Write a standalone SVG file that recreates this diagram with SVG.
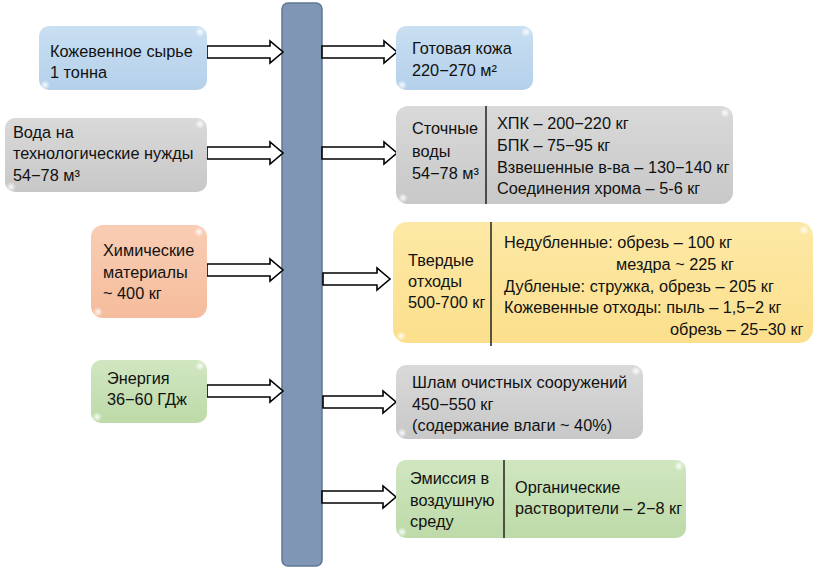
<svg xmlns="http://www.w3.org/2000/svg" width="816" height="568" viewBox="0 0 816 568">
<style>
text{font-family:"Liberation Sans",Arial,sans-serif;font-size:16.3px;fill:#111}
.box{stroke:none}
.blue{fill:url(#gBlue)}
.gray{fill:url(#gGray)}
.orange{fill:url(#gOrange)}
.green{fill:url(#gGreen)}
.yellow{fill:url(#gYellow)}
.div{stroke:#222;stroke-width:1.5}
.arr{fill:#fff;stroke:#000;stroke-width:1.6;stroke-linejoin:miter}
.hl{fill:url(#gHl)}
</style>
<defs>
<linearGradient id="gBlue" x1="0" y1="0" x2="0" y2="1"><stop offset="0" stop-color="#c9dff2"/><stop offset="1" stop-color="#b4d0ea"/></linearGradient>
<linearGradient id="gGray" x1="0" y1="0" x2="0" y2="1"><stop offset="0" stop-color="#d9d9d9"/><stop offset="1" stop-color="#c8c8c8"/></linearGradient>
<linearGradient id="gOrange" x1="0" y1="0" x2="0" y2="1"><stop offset="0" stop-color="#f9cdb4"/><stop offset="1" stop-color="#f5bc9c"/></linearGradient>
<linearGradient id="gGreen" x1="0" y1="0" x2="0" y2="1"><stop offset="0" stop-color="#d0e6c0"/><stop offset="1" stop-color="#bddaa8"/></linearGradient>
<linearGradient id="gYellow" x1="0" y1="0" x2="0" y2="1"><stop offset="0" stop-color="#fde9a6"/><stop offset="1" stop-color="#fbdf8c"/></linearGradient>
<radialGradient id="gHl"><stop offset="0" stop-color="#fff" stop-opacity="0.9"/><stop offset="1" stop-color="#fff" stop-opacity="0"/></radialGradient>
</defs>

<g id="center-bar">
<rect x="282" y="3" width="40" height="563" rx="6" fill="#7f97b5" stroke="#5f7696" stroke-width="1.5"/>
</g>

<g id="connectors">
<path class="arr" d="M207,46 H270 V41 L283,52 L270,63 V58 H207 Z"/>
<path class="arr" d="M207,147 H270 V142 L283,153 L270,164 V159 H207 Z"/>
<path class="arr" d="M207,264 H270 V259 L283,270 L270,281 V276 H207 Z"/>
<path class="arr" d="M207,385 H270 V380 L283,391 L270,402 V397 H207 Z"/>
<path class="arr" d="M322,46 H384 V41 L397,52 L384,63 V58 H322 Z"/>
<path class="arr" d="M322,147 H384 V142 L397,153 L384,164 V159 H322 Z"/>
<path class="arr" d="M323,273 H377 V268 L390,279 L377,290 V285 H323 Z"/>
<path class="arr" d="M323,396 H383 V391 L396,402 L383,413 V408 H323 Z"/>
<path class="arr" d="M322,491 H383 V486 L396,497 L383,508 V503 H322 Z"/>
</g>

<g id="node-raw">
<rect class="box blue" x="39" y="26" width="168" height="64" rx="10"/>
<circle class="hl" cx="200" cy="32" r="5"/><circle class="hl" cx="45" cy="85" r="5"/>
<text x="50" y="57">Кожевенное сырье</text>
<text x="50" y="78">1 тонна</text>
</g>

<g id="node-water">
<rect class="box gray" x="5" y="118" width="202" height="74" rx="10"/>
<circle class="hl" cx="200" cy="124" r="5"/><circle class="hl" cx="11" cy="187" r="5"/>
<text x="13" y="138">Вода на</text>
<text x="13" y="159">технологические нужды</text>
<text x="13" y="181">54−78 м³</text>
</g>

<g id="node-chem">
<rect class="box orange" x="91" y="225" width="116" height="93" rx="12"/>
<circle class="hl" cx="199" cy="232" r="5"/><circle class="hl" cx="98" cy="312" r="5"/>
<text x="103" y="256">Химические</text>
<text x="103" y="278">материалы</text>
<text x="103" y="299">~ 400 кг</text>
</g>

<g id="node-energy">
<rect class="box green" x="91" y="360" width="116" height="63" rx="10"/>
<circle class="hl" cx="200" cy="366" r="5"/><circle class="hl" cx="97" cy="417" r="5"/>
<text x="107" y="384">Энергия</text>
<text x="107" y="405">36−60 ГДж</text>
</g>

<g id="node-leather">
<rect class="box blue" x="396" y="26" width="137" height="64" rx="10"/>
<circle class="hl" cx="526" cy="32" r="5"/><circle class="hl" cx="402" cy="85" r="5"/>
<text x="412" y="54">Готовая кожа</text>
<text x="412" y="76">220−270 м²</text>
</g>

<g id="node-wastewater">
<rect class="box gray" x="396" y="106" width="337" height="98" rx="12"/>
<circle class="hl" cx="725" cy="113" r="5"/><circle class="hl" cx="403" cy="198" r="5"/>
<line class="div" x1="486" y1="106" x2="486" y2="204"/>
<text x="412" y="134">Сточные</text>
<text x="412" y="157">воды</text>
<text x="412" y="179">54−78 м³</text>
<text x="497" y="129">ХПК – 200−220 кг</text>
<text x="497" y="151">БПК – 75−95 кг</text>
<text x="497" y="173">Взвешенные в-ва – 130−140 кг</text>
<text x="497" y="194">Соединения хрома – 5-6 кг</text>
</g>

<g id="node-solid">
<rect class="box yellow" x="393" y="222" width="420" height="121" rx="14"/>
<circle class="hl" cx="804" cy="230" r="5"/><circle class="hl" cx="401" cy="336" r="5"/>
<line class="div" x1="491" y1="222" x2="491" y2="346"/>
<text x="408" y="266">Твердые</text>
<text x="408" y="287">отходы</text>
<text x="408" y="308">500-700 кг</text>
<text x="504" y="248">Недубленные: обрезь – 100 кг</text>
<text x="616" y="270">мездра ~ 225 кг</text>
<text x="504" y="292">Дубленые: стружка, обрезь – 205 кг</text>
<text x="504" y="313">Кожевенные отходы: пыль – 1,5−2 кг</text>
<text x="670" y="335">обрезь – 25−30 кг</text>
</g>

<g id="node-sludge">
<rect class="box gray" x="396" y="365" width="247" height="74" rx="10"/>
<circle class="hl" cx="636" cy="371" r="5"/><circle class="hl" cx="402" cy="433" r="5"/>
<text x="412" y="388">Шлам очистных сооружений</text>
<text x="412" y="410">450−550 кг</text>
<text x="412" y="431">(содержание влаги ~ 40%)</text>
</g>

<g id="node-emission">
<rect class="box green" x="396" y="460" width="290" height="78" rx="10"/>
<circle class="hl" cx="679" cy="466" r="5"/><circle class="hl" cx="402" cy="532" r="5"/>
<line class="div" x1="504" y1="460" x2="504" y2="538"/>
<text x="410" y="484">Эмиссия в</text>
<text x="410" y="506">воздушную</text>
<text x="410" y="527">среду</text>
<text x="515" y="493">Органические</text>
<text x="515" y="514">растворители – 2−8 кг</text>
</g>
</svg>
